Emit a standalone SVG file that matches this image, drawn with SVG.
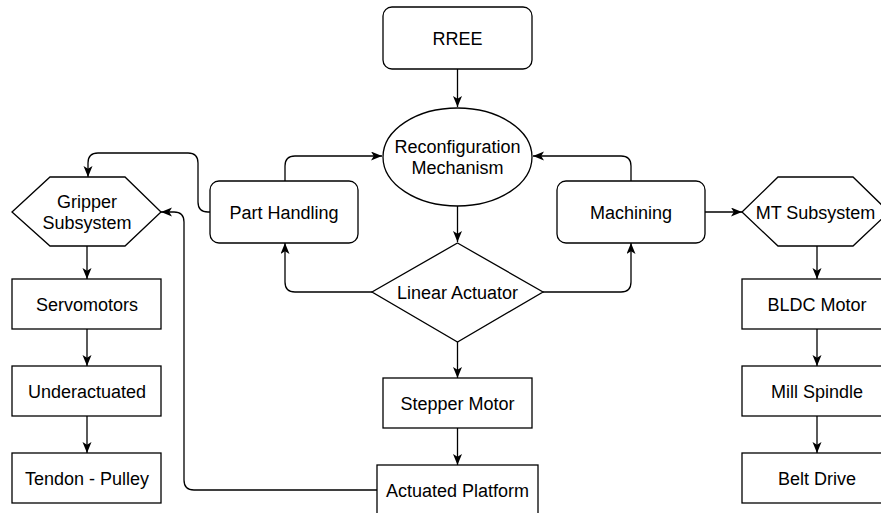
<svg xmlns="http://www.w3.org/2000/svg" width="881" height="513" viewBox="0 0 881 513">
  <style>
    .shape { fill: #ffffff; stroke: #000000; stroke-width: 1.3; }
    .label { font-family: "Liberation Sans", Arial, sans-serif; font-size: 18px; fill: #000000; text-anchor: middle; }
    .edge { fill: none; stroke: #000000; stroke-width: 1.3; marker-end: url(#arrow); }
  </style>
  <defs>
    <marker id="arrow" markerUnits="userSpaceOnUse" markerWidth="13" markerHeight="11" refX="11" refY="4.5" orient="auto">
      <path d="M0,0 L11,4.5 L0,9 L2.8,4.5 Z" fill="#000000"/>
    </marker>
  </defs>
  <rect width="881" height="513" fill="#ffffff"/>

  <!-- connectors -->
  <g id="connectors">
    <path class="edge" d="M457.5 69 V107"/>
    <path class="edge" d="M457.5 206 V242"/>
    <path class="edge" d="M285 181 V166 Q285 156 295 156 H382"/>
    <path class="edge" d="M210 212 H208 Q198 212 198 202 V163 Q198 153 188 153 H98 Q88 153 88 163 V177"/>
    <path class="edge" d="M372 292 H295 Q285 292 285 282 V243"/>
    <path class="edge" d="M543 292 H621 Q631 292 631 282 V243"/>
    <path class="edge" d="M631 181 V166 Q631 156 621 156 H533"/>
    <path class="edge" d="M705 212 H742"/>
    <path class="edge" d="M457.5 342 V378"/>
    <path class="edge" d="M457.5 428 V465"/>
    <path class="edge" d="M377 490 H194 Q184 490 184 480 V222 Q184 212 174 212 H161"/>
    <path class="edge" d="M87 246 V279"/>
    <path class="edge" d="M87 329 V366"/>
    <path class="edge" d="M87 416 V453"/>
    <path class="edge" d="M817 246 V279"/>
    <path class="edge" d="M817 329 V366"/>
    <path class="edge" d="M817 416 V453"/>
  </g>

  <!-- central column -->
  <g id="rree">
    <rect class="shape" x="383" y="7" width="149" height="62" rx="9"/>
    <text class="label" x="457.5" y="44.5">RREE</text>
  </g>
  <g id="reconfiguration-mechanism">
    <ellipse class="shape" cx="457.5" cy="157" rx="74.5" ry="49"/>
    <text class="label" x="457.5" y="153">Reconfiguration</text>
    <text class="label" x="457.5" y="174">Mechanism</text>
  </g>
  <g id="part-handling">
    <rect class="shape" x="210" y="181" width="148" height="62" rx="9"/>
    <text class="label" x="284" y="218.5">Part Handling</text>
  </g>
  <g id="machining">
    <rect class="shape" x="557" y="181" width="148" height="62" rx="9"/>
    <text class="label" x="631" y="218.5">Machining</text>
  </g>
  <g id="linear-actuator">
    <polygon class="shape" points="457.5,243 543,292 457.5,342 372,292"/>
    <text class="label" x="457.5" y="298.5">Linear Actuator</text>
  </g>
  <g id="stepper-motor">
    <rect class="shape" x="383" y="378" width="149" height="50"/>
    <text class="label" x="457.5" y="409.5">Stepper Motor</text>
  </g>
  <g id="actuated-platform">
    <rect class="shape" x="377" y="465" width="161" height="52"/>
    <text class="label" x="457.5" y="497">Actuated Platform</text>
  </g>

  <!-- gripper branch -->
  <g id="gripper-subsystem">
    <polygon class="shape" points="12,212 50,177 125,177 161,212 125,246 50,246"/>
    <text class="label" x="87" y="208">Gripper</text>
    <text class="label" x="87" y="229">Subsystem</text>
  </g>
  <g id="servomotors">
    <rect class="shape" x="12" y="279" width="149" height="50"/>
    <text class="label" x="87" y="310.5">Servomotors</text>
  </g>
  <g id="underactuated">
    <rect class="shape" x="12" y="366" width="149" height="50"/>
    <text class="label" x="87" y="397.5">Underactuated</text>
  </g>
  <g id="tendon-pulley">
    <rect class="shape" x="12" y="453" width="149" height="50"/>
    <text class="label" x="87" y="484.5">Tendon - Pulley</text>
  </g>

  <!-- machine tool branch -->
  <g id="mt-subsystem">
    <polygon class="shape" points="742,212 778,177 853,177 889,212 853,246 778,246"/>
    <text class="label" x="815.5" y="218.5">MT Subsystem</text>
  </g>
  <g id="bldc-motor">
    <rect class="shape" x="742" y="279" width="150" height="50"/>
    <text class="label" x="817" y="310.5">BLDC Motor</text>
  </g>
  <g id="mill-spindle">
    <rect class="shape" x="742" y="366" width="150" height="50"/>
    <text class="label" x="817" y="397.5">Mill Spindle</text>
  </g>
  <g id="belt-drive">
    <rect class="shape" x="742" y="453" width="150" height="50"/>
    <text class="label" x="817" y="484.5">Belt Drive</text>
  </g>
</svg>
